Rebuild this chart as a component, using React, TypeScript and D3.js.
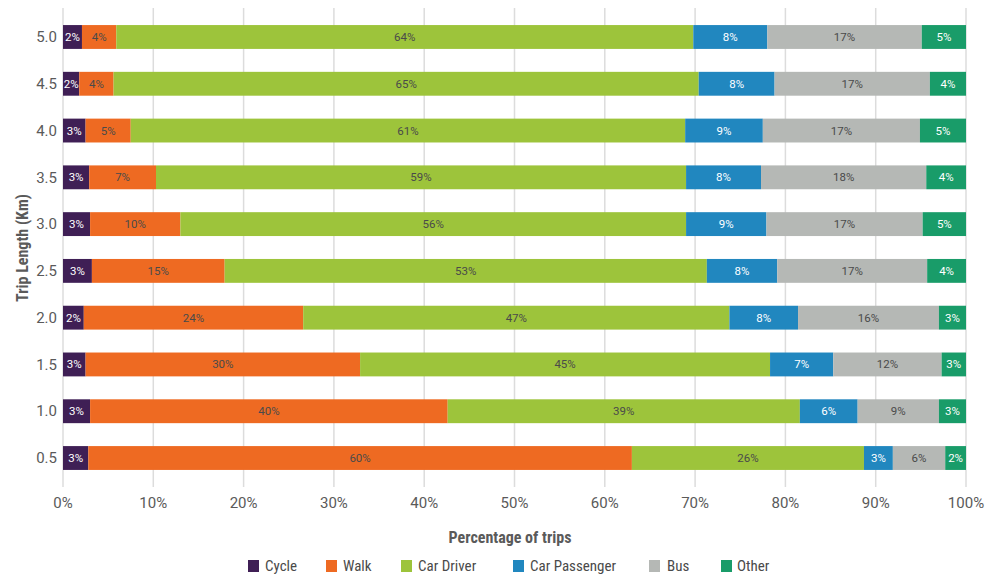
import React from "react";
import * as d3 from "d3";

const categories = ["5.0", "4.5", "4.0", "3.5", "3.0", "2.5", "2.0", "1.5", "1.0", "0.5"];
const seriesNames = ["Cycle", "Walk", "Car Driver", "Car Passenger", "Bus", "Other"];
const cycle = [2.1, 1.8, 2.5, 2.9, 3.0, 3.2, 2.3, 2.5, 3.0, 2.8];
const walk = [3.8, 3.8, 5.0, 7.4, 10.0, 14.7, 24.3, 30.4, 39.6, 60.2];
const carDriver = [63.9, 64.8, 61.4, 58.7, 56.0, 53.4, 47.2, 45.4, 39.0, 25.7];
const carPassenger = [8.2, 8.4, 8.6, 8.3, 8.9, 7.8, 7.6, 7.0, 6.4, 3.2];
const bus = [17.1, 17.2, 17.4, 18.3, 17.3, 16.6, 15.6, 12.0, 9.0, 5.8];
const other = [4.9, 4.0, 5.1, 4.4, 4.8, 4.3, 3.0, 2.7, 3.0, 2.3];
const xTicks = [0, 10, 20, 30, 40, 50, 60, 70, 80, 90, 100];

const colors = ["#3f1f55", "#ee6a22", "#9dc43b", "#2187bf", "#b5b8b5", "#199c69"];
const labelColors = ["#ffffff", "#4a4a4a", "#4a4a4a", "#ffffff", "#4a4a4a", "#ffffff"];

export default function App() {
  const W = 995, H = 576;
  const x = d3.scaleLinear().domain([0, 100]).range([63, 966]);
  const y = d3.scaleBand<string>().domain(categories).range([13.6, 481.4]).paddingInner(0.49).paddingOuter(0.245);
  const table = categories.map((c, i) => ({
    cat: c,
    "Cycle": cycle[i],
    "Walk": walk[i],
    "Car Driver": carDriver[i],
    "Car Passenger": carPassenger[i],
    "Bus": bus[i],
    "Other": other[i],
  }));
  const stack = d3.stack<any>().keys(seriesNames)(table);
  const font = "Roboto, 'Liberation Sans', sans-serif";
  const narrow = "'Liberation Sans Narrow', 'Roboto Condensed', Roboto, sans-serif";
  const legendItems = [
    { name: "Cycle", sx: 248, tx: 265 },
    { name: "Walk", sx: 326, tx: 343 },
    { name: "Car Driver", sx: 401, tx: 418 },
    { name: "Car Passenger", sx: 513, tx: 530 },
    { name: "Bus", sx: 649, tx: 667 },
    { name: "Other", sx: 721, tx: 737 },
  ];
  return (
    <svg width={W} height={H} style={{ position: "absolute", left: 0, top: 0, background: "#fff" }}>
      {xTicks.map((t) => (
        <line key={t} x1={x(t)} x2={x(t)} y1={8} y2={487} stroke="#dcdcdc" strokeWidth={1.5} />
      ))}
      {stack.map((s, si) => (
        <g key={s.key}>
          {s.map((d, i) => (
            <rect key={i} x={x(d[0])} y={y(categories[i])} width={x(d[1]) - x(d[0])} height={y.bandwidth()} fill={colors[si]} />
          ))}
        </g>
      ))}
      {stack.map((s, si) => (
        <g key={s.key + "l"}>
          {s.map((d, i) => (
            <text key={i} x={(x(d[0]) + x(d[1])) / 2} y={(y(categories[i]) as number) + y.bandwidth() / 2}
              dy="0.35em" textAnchor="middle" fontSize={11.5} fontFamily={font} fill={labelColors[si]}>
              {Math.round(d[1] - d[0]) + "%"}
            </text>
          ))}
        </g>
      ))}
      {categories.map((c) => (
        <text key={c} x={57} y={(y(c) as number) + y.bandwidth() / 2} dy="0.35em" textAnchor="end"
          fontSize={15} fontFamily={font} fill="#5a5a5a">{c}</text>
      ))}
      {xTicks.map((t) => (
        <text key={t} x={x(t)} y={503} dy="0.35em" textAnchor="middle" fontSize={15} fontFamily={font} fill="#5a5a5a">{t + "%"}</text>
      ))}
      <text x={510} y={537} dy="0.35em" textAnchor="middle" fontSize={16} fontWeight="bold" fontFamily={narrow} fill="#5a5a5a">Percentage of trips</text>
      <text transform="translate(22,248) rotate(-90)" dy="0.35em" textAnchor="middle" fontSize={16} fontWeight="bold" fontFamily={narrow} fill="#5a5a5a">Trip Length (Km)</text>
      {legendItems.map((l, i) => (
        <g key={l.name}>
          <rect x={l.sx} y={560} width={11} height={12} fill={colors[i]} />
          <text x={l.tx} y={566} dy="0.35em" fontSize={15} fontFamily={narrow} fill="#4a4a4a">{l.name}</text>
        </g>
      ))}
    </svg>
  );
}
